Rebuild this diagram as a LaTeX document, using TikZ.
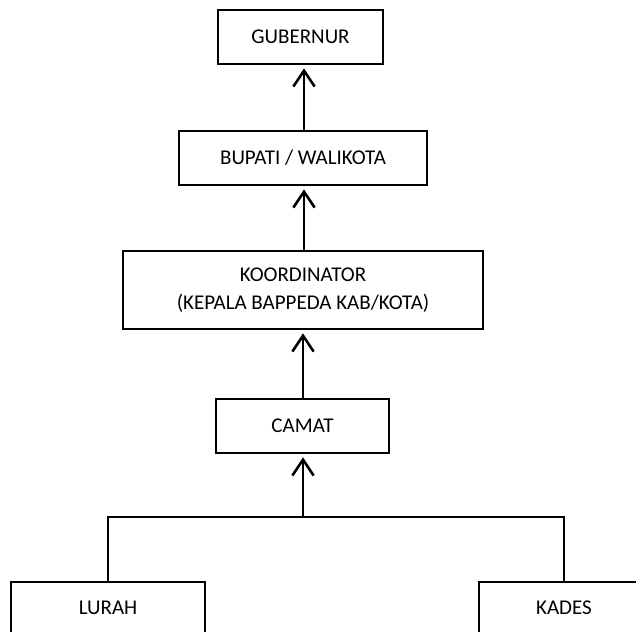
\documentclass[tikz,border=0pt]{standalone}
\usepackage{fontspec}
\setmainfont{Carlito}
\usetikzlibrary{arrows.meta}
\begin{document}
\begin{tikzpicture}[x=0.75pt,y=-0.75pt,
  box/.style={draw=black,line width=1.5pt,rectangle,inner sep=0pt,align=center,
    font=\fontsize{15.75}{21}\selectfont},
  uparrow/.style={line width=1.9pt,shorten >=2.5pt,
    -{Straight Barb[length=12pt,width=16pt,line width=1.9pt]}},
  tree/.style={line width=1.5pt}]
  \useasboundingbox (0,0) rectangle (636,632);
  \clip (0,0) rectangle (636,632);
  \node[box,minimum width=165*0.75pt,minimum height=54*0.75pt] (gub) at (300.5,37) {GUBERNUR};
  \node[box,minimum width=248*0.75pt,minimum height=54*0.75pt] (bup) at (303,158) {BUPATI / WALIKOTA};
  \node[box,minimum width=360*0.75pt,minimum height=78*0.75pt] (koord) at (303,290)
    {KOORDINATOR\\(KEPALA BAPPEDA KAB/KOTA)};
  \node[box,minimum width=173*0.75pt,minimum height=54*0.75pt] (camat) at (302.5,426) {CAMAT};
  \node[box,minimum width=194*0.75pt,minimum height=52*0.75pt] (lurah) at (108,608) {LURAH};
  \node[box,minimum width=170*0.75pt,minimum height=52*0.75pt] (kades) at (564,608) {KADES};
  \coordinate (j) at (303,517);
  % upward reporting chain
  \draw[uparrow] (bup.north -| 304,0) -- (gub.south -| 304,0);
  \draw[uparrow] (koord.north -| 304,0) -- (bup.south -| 304,0);
  \draw[uparrow] (camat.north -| j) -- (koord.south -| j);
  \draw[uparrow] (j) -- (camat.south -| j);
  % branch to the village heads
  \draw[tree] (lurah.north) -- (lurah.north |- j) -- (kades.north |- j) -- (kades.north);
\end{tikzpicture}
\end{document}
